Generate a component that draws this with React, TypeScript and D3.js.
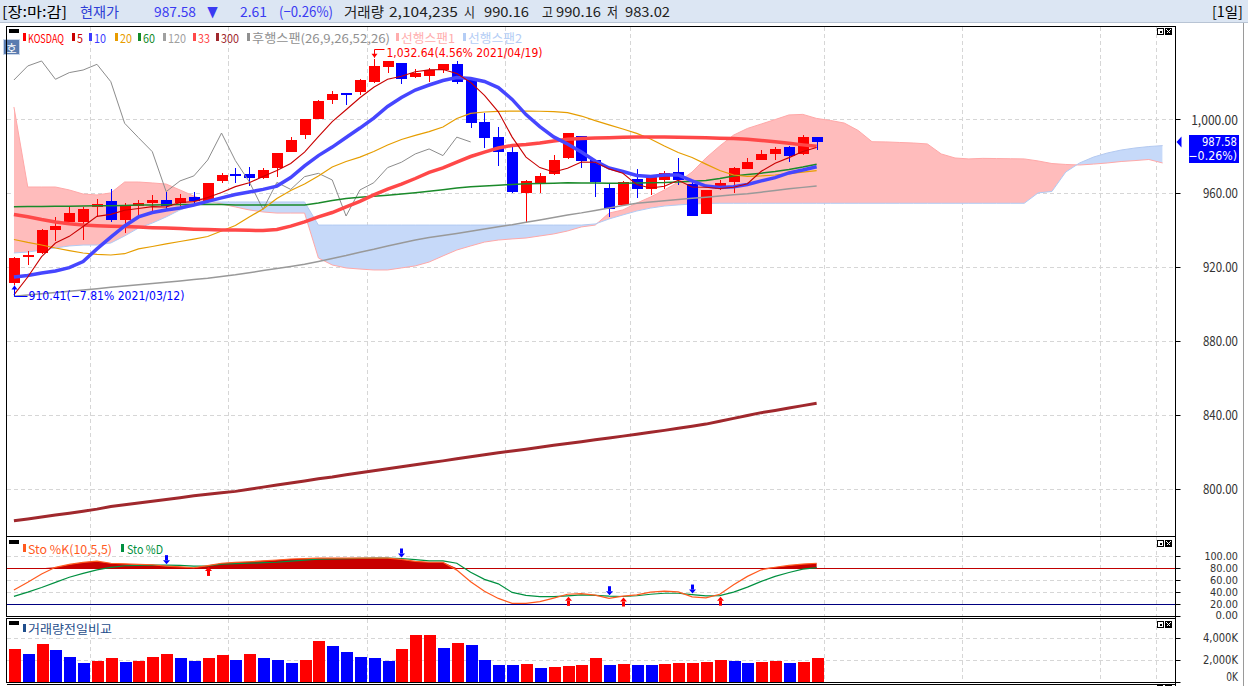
import * as d3 from 'd3';

const FONT = "'Noto Sans CJK KR', 'Noto Sans', 'DejaVu Sans', sans-serif";
const AXIS_FONT = "'DejaVu Sans', sans-serif";

// ---- candles (2021/03/12 .. 2021/06/04) ----
const dates = [
  '2021/03/12', '2021/03/15', '2021/03/16', '2021/03/17', '2021/03/18', '2021/03/19', '2021/03/22', '2021/03/23',
  '2021/03/24', '2021/03/25', '2021/03/26', '2021/03/29', '2021/03/30', '2021/03/31', '2021/04/01', '2021/04/02',
  '2021/04/05', '2021/04/06', '2021/04/07', '2021/04/08', '2021/04/09', '2021/04/12', '2021/04/13', '2021/04/14',
  '2021/04/15', '2021/04/16', '2021/04/19', '2021/04/20', '2021/04/21', '2021/04/22', '2021/04/23', '2021/04/26',
  '2021/04/27', '2021/04/28', '2021/04/29', '2021/04/30', '2021/05/03', '2021/05/04', '2021/05/06', '2021/05/07',
  '2021/05/10', '2021/05/11', '2021/05/12', '2021/05/13', '2021/05/14', '2021/05/17', '2021/05/18', '2021/05/20',
  '2021/05/21', '2021/05/24', '2021/05/25', '2021/05/26', '2021/05/27', '2021/05/28', '2021/05/31', '2021/06/01',
  '2021/06/02', '2021/06/03', '2021/06/04',
];
const opens = [
  911, 925.1, 927.3, 939.9, 944.4, 944.4, 952.6, 955.6, 945.3, 953.1, 954.4, 956.2, 954.4, 957.8, 955.6, 966.5,
  970.1, 970.1, 968.3, 973.3, 982.3, 991.3, 1000, 1010.3, 1013.9, 1014.4, 1020.2, 1028.3, 1030.1, 1022.5, 1023.4,
  1026.5, 1029.8, 1021.1, 998.6, 990.1, 982.3, 960.1, 965.5, 970.1, 978.7, 990.8, 977.8, 962.8, 953.5, 967.4, 961.9,
  966.8, 971.3, 964.8, 948.6, 961.9, 966.1, 973, 977.8, 981.1, 985, 980.9, 990.16,
];
const highs = [
  925.5, 928.8, 940.5, 947.2, 952.6, 952.6, 956.5, 962.1, 954.7, 956.2, 958.9, 960.7, 959.4, 960.3, 965.4, 971,
  973.3, 973.8, 973.7, 981.6, 990.1, 1000.2, 1010.3, 1015.3, 1014.2, 1021.5, 1032.64, 1031.6, 1030.3, 1026.9, 1027.4,
  1029.8, 1031.4, 1021.3, 1003.4, 995.5, 984.7, 967, 970.6, 980.5, 992.6, 991, 978, 965.2, 966.5, 973, 969, 971.9,
  978.9, 967, 961.8, 967, 974.2, 978.7, 983.2, 985, 985.2, 991.3, 990.16,
];
const lows = [
  910.41, 921, 926.8, 934.2, 944, 934.5, 947.2, 944.4, 938.5, 947.2, 950.4, 951.1, 953.1, 953.5, 955.4, 965.5, 965.5,
  963.9, 967.4, 968.8, 982.1, 989.2, 999.8, 1008.1, 1007.8, 1013, 1019.3, 1024.7, 1018.8, 1022.3, 1020.2, 1024.7,
  1018.8, 995, 984.1, 974.6, 960.1, 943.5, 960.1, 969.9, 978.5, 973.3, 957.6, 947.2, 953.1, 957.1, 958.9, 961.9,
  964.3, 947.3, 948.4, 961.7, 960.1, 972.8, 977.6, 977.8, 976.9, 980.7, 983.02,
];
const closes = [
  924.6, 926.4, 939.9, 942.1, 949.3, 951.1, 954, 945.3, 953.1, 954.4, 956.2, 953.1, 957.4, 955.6, 965.2, 969.7,
  969.2, 967.9, 972.4, 981.4, 988.6, 1000, 1009.7, 1013.5, 1013, 1021.1, 1028.7, 1031.4, 1021.5, 1025.1, 1026.5,
  1029.6, 1020.2, 997.7, 989.9, 982.3, 960.7, 966.5, 969.2, 977.8, 992.4, 977.5, 966.1, 951.1, 965.7, 961.9, 968.8,
  970.6, 967, 947.5, 961.6, 965.5, 973.7, 976.6, 981.1, 983.8, 980.2, 990.19, 987.58,
];
// volume in thousands
const volumes = [
  2950, 2480, 3430, 2860, 2190, 1710, 1900, 2100, 1810, 1850, 2190, 2480, 2100, 1900, 2100, 2380, 2000, 2480, 2100,
  2000, 1710, 2000, 3710, 3240, 2670, 2190, 2100, 1900, 2950, 4190, 4220, 3050, 3520, 3330, 2000, 1520, 1500, 1620,
  1240, 1330, 1430, 1520, 2100, 1520, 1620, 1520, 1500, 1620, 1640, 1660, 1810, 2000, 1900, 1710, 1740, 1900, 1710,
  1810, 2104,
];

// ---- moving averages ----
const ma5 = [
  904.8, 914.5, 925.5, 932.9, 936.5, 941.8, 947.3, 948.4, 950.6, 951.6, 952.6, 952.4, 954.8, 955.3, 957.5, 960.2,
  963.4, 965.5, 968.9, 972.1, 975.9, 982.1, 990.4, 998.6, 1005, 1011.5, 1017.2, 1021.5, 1023.1, 1025.6, 1026.6,
  1026.8, 1024.6, 1019.8, 1012.8, 1003.9, 990.2, 979.4, 973.7, 971.3, 973.3, 976.7, 976.6, 973, 970.6, 964.5, 962.7,
  963.6, 966.8, 963.2, 963.1, 962.4, 963.1, 965, 971.7, 976.1, 979.1, 982.4, 984.6,
];
const ma10 = [
  914.5, 915.3, 916.7, 917.8, 919.6, 922.9, 929.7, 936.1, 942.1, 947, 949.4, 950.8, 951.8, 953.5, 955.4, 957.3,
  959.1, 960.5, 961.9, 963.7, 968.3, 974.6, 980.2, 984.8, 990, 995.1, 1000.5, 1006.8, 1011.6, 1015.7, 1018.4, 1020.8,
  1022.5, 1021.9, 1020.3, 1017, 1010.6, 1002.4, 995.9, 990.3, 986.5, 982.1, 977.3, 973.5, 971.6, 969.4, 968.9, 969.7,
  969.7, 966.5, 963.7, 963, 963.3, 964.6, 966.5, 968.3, 970.8, 972.4, 974.2,
];
const ma20 = [
  934.8, 933.2, 931.8, 930.2, 928.8, 927.5, 926.7, 926.4, 927.1, 929.7, 931, 932.4, 933.7, 935, 936.4, 939.4, 942.4,
  947, 951.3, 957, 961.3, 964.8, 969.2, 974, 977, 979.4, 982.4, 985.9, 988.9, 991.1, 993.2, 995.7, 1000.3, 1003,
  1003.8, 1004.1, 1004.3, 1004.3, 1004.2, 1004, 1003.4, 1001.6, 999.1, 996.8, 994.6, 992.2, 989.2, 985.4, 981.9,
  979.2, 975.6, 972.1, 969.7, 968.9, 969.2, 969.7, 970.4, 971.3, 972.1,
];
const ma60 = [
  952.5, 952.6, 952.7, 952.8, 952.8, 952.9, 953, 953.1, 953.2, 953.4, 953.5, 953.6, 953.7, 953.8, 953.9, 953.7, 953.5,
  953.5, 953.5, 953.5, 953.5, 953.5, 954.5, 955.9, 957, 957.6, 958.2, 958.8, 959.4, 960.1, 960.9, 961.7, 962.6, 963.4,
  963.8, 964.2, 964.6, 964.9, 965.1, 965.3, 965.5, 965.4, 965.4, 965.3, 965.2, 965.4, 965.5, 965.6, 965.9, 966.3,
  966.7, 967.8, 969.2, 970, 970.7, 971.6, 972.7, 974, 975.5,
];
const ma120 = [
  904.1, 904.8, 905.4, 906.1, 906.8, 907.5, 908.2, 908.9, 909.6, 910.3, 911, 911.7, 912.4, 913.1, 913.8, 914.8, 915.7,
  916.8, 918, 919.1, 920.2, 921.4, 922.9, 924.5, 926.1, 927.9, 929.5, 931.3, 932.9, 934.5, 935.9, 937, 938.1, 939.3,
  940.5, 941.7, 942.8, 944.1, 945.4, 946.7, 948.1, 949.2, 950.5, 951.8, 953.2, 954.4, 955.1, 955.8, 956.4, 957.1,
  957.7, 958.3, 959, 959.6, 960.4, 961.3, 962.2, 963, 963.7,
];
const ma33 = [
  948.3, 947.1, 945.6, 944.3, 943.3, 942.6, 942.3, 942, 941.8, 941.5, 941.2, 941, 940.7, 940.4, 940.2, 940, 939.9,
  939.8, 939.6, 940.2, 942, 944.3, 947, 949.4, 952.4, 955.4, 958.9, 962.1, 964.8, 967.8, 971.1, 973.5, 976.7, 979.7,
  982.1, 984.3, 985.7, 986.2, 987, 988.1, 989.1, 989.4, 989.7, 989.9, 990.1, 990.2, 990.2, 990.2, 990.1, 990, 989.8,
  989.6, 989.4, 989, 988.4, 987.7, 986.9, 986, 985.2,
];
const ma300 = [
  782.6, 783.6, 784.6, 785.7, 786.7, 787.8, 788.9, 790.3, 791.2, 792.2, 793.2, 794.1, 795.1, 796.1, 796.9, 797.8,
  798.5, 799.6, 800.8, 801.9, 803, 804.1, 805.3, 806.3, 807.5, 808.6, 809.6, 810.7, 811.8, 812.9, 814, 815, 816.1,
  817.2, 818.3, 819.4, 820.3, 821.3, 822.4, 823.4, 824.4, 825.4, 826.4, 827.4, 828.4, 829.4, 830.5, 831.5, 832.6,
  833.7, 834.9, 836.4, 838, 839.6, 841.1, 842.3, 843.6, 844.9, 846.2,
];

// ---- ichimoku leading spans (shifted forward, 84 slots) ----
const span1 = [
  1006.5, 963.2, 963.2, 963.2, 961.6, 959.4, 958.9, 960, 965.9, 965.9, 965.4, 964.8, 961.6, 958.3, 955.6, 954, 952.4,
  950.8, 949.7, 949.1, 949.1, 949.1, 924.8, 921, 919.4, 918.8, 918.3, 918.3, 919.4, 920.5, 922.6, 925.9, 929.1,
  931.3, 933.4, 934.5, 935.1, 935.6, 936.7, 937.8, 939.4, 941.6, 942.6, 949.1, 950.8, 954.5, 957.8, 961.6, 965.9,
  971.3, 978.9, 985.4, 991.3, 994.9, 997.3, 999.7, 1002.2, 1002.5, 1000.3, 999.2, 997.8, 993.8, 987.7, 987.6, 987.3,
  987, 986.5, 981.1, 978.9, 978.4, 978.7, 978.6, 978.5, 978.4, 977.3, 975.9, 975.4, 975.1, 975.6, 976.2, 977, 977.5,
  978.1, 976.2,
];
const span2 = [
  927.5, 928, 929.1, 930.2, 931.3, 931.8, 931.8, 932.9, 936.7, 941, 943.7, 947, 950.8, 953.5, 955.1, 955.1, 955.1,
  955.1, 955.1, 955.1, 955.1, 955.1, 942.6, 942.6, 942.6, 942.6, 942.6, 942.6, 942.6, 942.6, 942.6, 942.6, 942.6,
  942.6, 942.6, 942.6, 942.6, 942.6, 942.6, 942.6, 942.6, 942.6, 943.2, 945.9, 948.1, 950.2, 951.8, 952.9, 953.5,
  954, 954.3, 954.4, 954.4, 954.4, 954.4, 954.4, 954.4, 954.4, 954.4, 954.4, 954.4, 954.4, 954.4, 954.4, 954.4,
  954.4, 954.4, 954.4, 954.4, 954.4, 954.4, 954.4, 954.4, 954.4, 960, 960.8, 971.3, 976.2, 979.4, 981.6, 983.2,
  984.3, 985.1, 985.6,
];
const LAG = 25;

// ---- stochastics ----
const stoK = [
  43.5, 56.5, 70.5, 81.7, 86.5, 90, 92, 88.5, 87.5, 86.5, 86, 83.8, 82.5, 81, 84.5, 88.5, 90, 91, 92.5, 94, 95.6,
  96.3, 97, 97, 97, 97, 97, 97.2, 95, 91.8, 90.2, 90.2, 77, 57.5, 41.5, 29.5, 21.3, 21.3, 24, 30, 36.5, 37.5, 35,
  29.6, 33.5, 35.5, 40, 41.8, 40.5, 32, 30.5, 36.5, 52.5, 66.5, 77.5, 81.8, 84.8, 87.2, 88.5,
];
const stoD = [
  33, 40, 47.8, 56.5, 65, 71.5, 77.5, 81.6, 84.3, 85.1, 85.5, 85.3, 84.8, 83.8, 84, 86.9, 87.8, 88.6, 89.4, 90.2, 92,
  93.8, 95.3, 95.9, 96.4, 96.8, 97, 97, 96.5, 94.5, 92.4, 92.4, 88.5, 73.5, 61.5, 54, 39.5, 34.5, 32.5, 32.5, 33.8,
  35.3, 34.5, 33.2, 32.7, 34, 36.5, 38.2, 38.2, 36, 33.8, 34.1, 40, 48.5, 58, 66.5, 73, 78.5, 81.2,
];
const sellSignals = [11, 28, 43, 49];
const buySignals = [14, 40, 44, 51];

// ---- ticks ----
const priceTicks = [1000, 960, 920, 880, 840, 800];
const stoTicks = [100, 80, 60, 40, 20, 0];
const volTicks = [4000, 2000, 0];
const gridIdx = [6, 16, 26, 36, 45, 59, 69, 79, 83];

// ---- layout ----
const W = 1248;
const H = 686;
const L = 6.5;
const R = 1175.5;
const MAIN_T = 26.5;
const MAIN_B = 536.5;
const STO_B = 616.5;
const VOL_T = 618.5;
const VOL_B = 682.5;
const LABEL_X = 1238;
const STEP = 13.84;
const SLOTS = 84;

const x = d3
  .scaleBand<number>()
  .domain(d3.range(SLOTS))
  .range([7, 7 + SLOTS * STEP])
  .paddingInner(0.15)
  .paddingOuter(0.075);
const cx = (i: number) => (x(i) ?? 0) + x.bandwidth() / 2;
const yP = d3.scaleLinear().domain([800, 1000]).range([488.6, 119]);
const yS = d3.scaleLinear().domain([0, 100]).range([616, 556.4]);
const yV = d3.scaleLinear().domain([0, 4000]).range([681.5, 637.5]);

const priceLine = d3.line<number>().x((_, i) => cx(i)).y((v) => yP(v));
const stoLine = d3.line<number>().x((_, i) => cx(i)).y((v) => yS(v));
const stoFill = d3
  .area<number>()
  .x((_, i) => cx(i))
  .y0(yS(80))
  .y1((v) => yS(Math.max(v, 80)));
const cloudArea = d3
  .area<number>()
  .x((_, i) => cx(i))
  .y0((_, i) => yP(span2[i]))
  .y1((v) => yP(v));
const aboveSpan2 = d3.area<number>().x((_, i) => cx(i)).y0(MAIN_T).y1((v) => yP(v));
const belowSpan2 = d3.area<number>().x((_, i) => cx(i)).y0(MAIN_B).y1((v) => yP(v));

const fmtPrice = d3.format(',.2f');
const fmtVol = (v: number) => d3.format(',')(v) + 'K';

const textWidth = (s: string, latin: number, hangul: number) =>
  Array.from(s).reduce((w, ch) => w + (ch.charCodeAt(0) >= 0x1100 ? hangul : latin), 0);

type LabelProps = {
  x: number;
  y: number;
  text: string;
  size?: number;
  fill?: string;
  anchor?: 'start' | 'middle' | 'end';
  latin?: number;
  hangul?: number;
  width?: number;
  family?: string;
};
function Label({
  x,
  y,
  text,
  size = 12,
  fill = '#333',
  anchor = 'start',
  latin = 6,
  hangul = 12,
  width,
  family = FONT,
}: LabelProps) {
  const len = width ?? textWidth(text, latin, hangul);
  return (
    <text
      x={x}
      y={y}
      fontSize={size}
      fill={fill}
      textAnchor={anchor}
      dominantBaseline="central"
      textLength={len}
      lengthAdjust="spacingAndGlyphs"
      fontFamily={family}
    >
      {text}
    </text>
  );
}

function PanelIcons({ y }: { y: number }) {
  return (
    <g shapeRendering="crispEdges">
      <rect x={1157.5} y={y + 0.5} width={6} height={6} fill="#fff" stroke="#000" />
      <rect x={1159.5} y={y + 2.5} width={2} height={2} fill="#000" />
      <rect x={1165} y={y} width={7} height={7} fill="#000" />
      <path
        d={`M${1166.5},${y + 1.5}L${1170.5},${y + 5.5}M${1170.5},${y + 1.5}L${1166.5},${y + 5.5}`}
        stroke="#fff"
        strokeWidth={1}
      />
    </g>
  );
}

const gridX = (g: number) => Math.round(cx(g) - STEP / 2) + 0.5;

function VGrid({ top, bottom }: { top: number; bottom: number }) {
  return (
    <g stroke="#d6d6d6" strokeDasharray="4,3" shapeRendering="crispEdges">
      {gridIdx.map((g) => (
        <line key={g} x1={gridX(g)} x2={gridX(g)} y1={top} y2={bottom} />
      ))}
    </g>
  );
}

const mainLegend = [
  { label: 'KOSDAQ', color: '#ff0000', x: 23 },
  { label: '5', color: '#c80000', x: 72 },
  { label: '10', color: '#3c3cff', x: 89 },
  { label: '20', color: '#e89c00', x: 115 },
  { label: '60', color: '#128a28', x: 138 },
  { label: '120', color: '#a0a0a0', x: 163 },
  { label: '33', color: '#ff4848', x: 193 },
  { label: '300', color: '#a0282d', x: 216 },
  { label: '후행스팬(26,9,26,52,26)', color: '#909090', x: 247 },
  { label: '선행스팬1', color: '#ffadad', x: 396 },
  { label: '선행스팬2', color: '#b4cdf5', x: 463 },
];

export default function App() {
  const last = closes[closes.length - 1];
  const prev = closes[closes.length - 2];
  const hiIdx = d3.maxIndex(highs);
  const loIdx = d3.minIndex(lows);
  const pct = (v: number) => d3.format('.2f')(((v - last) / last) * 100) + '%';
  const hiY = yP(highs[hiIdx]);
  const loY = yP(lows[loIdx]);
  const hiX = Math.round(cx(hiIdx)) + 0.5;
  const loX = Math.round(cx(loIdx)) + 0.5;
  const lagging = closes.slice(LAG);
  const change = last - prev;

  const headerBlue = '#3a3af2';
  const header = [
    { t: '[장:마:감]', x: 2, w: 65, c: '#000' },
    { t: '현재가', x: 80, w: 39, c: '#2f3fd6' },
    { t: d3.format('.2f')(last), x: 154, w: 42, c: headerBlue },
    { t: change < 0 ? '▼' : '▲', x: 207, w: 11, c: headerBlue },
    { t: d3.format('.2f')(Math.abs(change)), x: 240, w: 27, c: headerBlue },
    { t: `(${d3.format('.2f')((change / prev) * 100)}%)`, x: 279, w: 54, c: headerBlue },
    { t: '거래량', x: 344, w: 40, c: '#222' },
    { t: '2,104,235', x: 389, w: 69, c: '#222' },
    { t: '시', x: 464, w: 11, c: '#222' },
    { t: d3.format('.2f')(opens[opens.length - 1]), x: 484, w: 45, c: '#222' },
    { t: '고', x: 542, w: 11, c: '#222' },
    { t: d3.format('.2f')(highs[highs.length - 1]), x: 556, w: 45, c: '#222' },
    { t: '저', x: 607, w: 11, c: '#222' },
    { t: d3.format('.2f')(lows[lows.length - 1]), x: 625, w: 45, c: '#222' },
  ];

  return (
    <div style={{ position: 'absolute', left: 0, top: 0, width: W, height: H, overflow: 'hidden', background: '#fff' }}>
      <svg width={W} height={H} style={{ display: 'block' }}>
        <defs>
          <clipPath id="mainClip">
            <rect x={L + 0.5} y={MAIN_T + 0.5} width={R - L - 1} height={MAIN_B - MAIN_T - 1} />
          </clipPath>
          <clipPath id="aboveS2">
            <path d={aboveSpan2(span2) ?? ''} />
          </clipPath>
          <clipPath id="belowS2">
            <path d={belowSpan2(span2) ?? ''} />
          </clipPath>
        </defs>

        {/* header */}
        <rect x={0} y={0} width={W} height={22} fill="#dce6f3" />
        <line x1={0} x2={W} y1={22.5} y2={22.5} stroke="#b8c4d4" />
        {header.map((h, i) => (
          <Label key={i} x={h.x} y={11} text={h.t} size={14} fill={h.c} width={h.w} />
        ))}
        <Label x={1243} y={11} text="[1일]" size={14} fill="#000" anchor="end" width={31} />

        {/* ===== main panel ===== */}
        <g stroke="#d6d6d6" strokeDasharray="4,3" shapeRendering="crispEdges">
          {priceTicks.map((t) => (
            <line key={t} x1={L} x2={R} y1={Math.round(yP(t)) + 0.5} y2={Math.round(yP(t)) + 0.5} />
          ))}
        </g>
        <VGrid top={MAIN_T} bottom={MAIN_B} />

        <g clipPath="url(#mainClip)">
          {/* cloud */}
          <path d={cloudArea(span1) ?? ''} fill="#ffbcbc" clipPath="url(#aboveS2)" />
          <path d={cloudArea(span1) ?? ''} fill="#c6d9f9" clipPath="url(#belowS2)" />
          <path d={priceLine(span1) ?? ''} fill="none" stroke="#ffa8a8" strokeWidth={1} />
          <path d={priceLine(span2) ?? ''} fill="none" stroke="#b2caf2" strokeWidth={1} />

          {/* candles */}
          {opens.map((o, i) => {
            const c = closes[i];
            const col = c >= o ? '#ff0000' : '#0000ff';
            const xc = Math.round(cx(i)) + 0.5;
            const top = yP(Math.max(o, c));
            const bot = yP(Math.min(o, c));
            return (
              <g key={i} shapeRendering="crispEdges">
                <line x1={xc} x2={xc} y1={yP(highs[i])} y2={yP(lows[i])} stroke={col} />
                <rect x={xc - 5.5} y={top} width={11} height={Math.max(1, bot - top)} fill={col} />
              </g>
            );
          })}

          {/* lines */}
          <path d={priceLine(lagging) ?? ''} fill="none" stroke="#8c8c8c" strokeWidth={1} />
          <path d={priceLine(ma120) ?? ''} fill="none" stroke="#999" strokeWidth={1.5} />
          <path d={priceLine(ma60) ?? ''} fill="none" stroke="#1a8a2a" strokeWidth={1.5} />
          <path d={priceLine(ma20) ?? ''} fill="none" stroke="#e69d00" strokeWidth={1.2} />
          <path d={priceLine(ma33) ?? ''} fill="none" stroke="#ff4848" strokeWidth={3.5} />
          <path d={priceLine(ma10) ?? ''} fill="none" stroke="#4646ff" strokeWidth={3.5} />
          <path d={priceLine(ma5) ?? ''} fill="none" stroke="#c80000" strokeWidth={1.1} />
          <path d={priceLine(ma300) ?? ''} fill="none" stroke="#a0282d" strokeWidth={3} />

          {/* high marker */}
          <path d={`M${hiX},${hiY - 1}L${hiX},49.5L${hiX + 10},49.5`} fill="none" stroke="#ff0000" />
          <path d={`M${hiX - 3},${hiY - 5}L${hiX + 3},${hiY - 5}L${hiX},${hiY - 1}Z`} fill="#ff0000" />
          <Label
            x={hiX + 12}
            y={52.5}
            text={`${fmtPrice(highs[hiIdx])}(${pct(highs[hiIdx])} ${dates[hiIdx]})`}
            fill="#ff0000"
            family={AXIS_FONT}
          />
          {/* low marker */}
          <path d={`M${loX},${loY + 1}L${loX},296.5L${loX + 13},296.5`} fill="none" stroke="#0000ff" />
          <path d={`M${loX - 3},${loY + 5}L${loX + 3},${loY + 5}L${loX},${loY + 1}Z`} fill="#0000ff" />
          <Label
            x={loX + 14}
            y={296}
            text={`${fmtPrice(lows[loIdx])}(${pct(lows[loIdx])} ${dates[loIdx]})`}
            fill="#0000ff"
            family={AXIS_FONT}
          />
        </g>

        {/* legend */}
        <rect x={9} y={29} width={10} height={4} fill="#000" />
        {mainLegend.map((m) => (
          <g key={m.label}>
            <rect x={m.x} y={33} width={3} height={8} fill={m.color} />
            <Label x={m.x + 5} y={37} text={m.label} fill={m.color} />
          </g>
        ))}
        <rect x={3.5} y={39.5} width={16} height={15} fill="#5a7cb0" stroke="#c8d6ea" />
        <text x={11.5} y={47.5} fontSize={11} fill="#fff" textAnchor="middle" dominantBaseline="central" fontFamily={FONT}>
          호
        </text>
        <PanelIcons y={28} />

        {/* right axis main */}
        {priceTicks.map((t) => (
          <g key={t}>
            <line x1={R} x2={R + 5} y1={Math.round(yP(t)) + 0.5} y2={Math.round(yP(t)) + 0.5} stroke="#000" />
            <Label x={LABEL_X} y={yP(t)} text={fmtPrice(t)} size={13} anchor="end" latin={5.85} />
          </g>
        ))}
        <path d={`M${R + 1},${yP(last)}L${R + 6},${yP(last) - 5.5}L${R + 6},${yP(last) + 5.5}Z`} fill="#0000ff" />
        <rect x={1189} y={135} width={50} height={28} fill="#0000ff" />
        <Label
          x={1237}
          y={141.5}
          text={d3.format('.2f')(last)}
          size={12}
          fill="#fff"
          anchor="end"
          latin={5.85}
          family={AXIS_FONT}
        />
        <Label
          x={1237}
          y={156}
          text={`(${d3.format('.2f')((change / prev) * 100)}%)`}
          size={12}
          fill="#fff"
          anchor="end"
          latin={5.85}
          family={AXIS_FONT}
        />

        {/* ===== stochastic panel ===== */}
        <g stroke="#d6d6d6" strokeDasharray="4,3" shapeRendering="crispEdges">
          {stoTicks.map((t) => (
            <line key={t} x1={L} x2={R} y1={Math.round(yS(t)) + 0.5} y2={Math.round(yS(t)) + 0.5} />
          ))}
        </g>
        <VGrid top={MAIN_B} bottom={STO_B} />
        <path d={stoFill(stoK) ?? ''} fill="#c80000" />
        <line x1={L} x2={R} y1={Math.round(yS(80)) + 0.5} y2={Math.round(yS(80)) + 0.5} stroke="#c00000" shapeRendering="crispEdges" />
        <line x1={L} x2={R} y1={Math.round(yS(20)) + 0.5} y2={Math.round(yS(20)) + 0.5} stroke="#000080" shapeRendering="crispEdges" />
        <path d={stoLine(stoD) ?? ''} fill="none" stroke="#009040" strokeWidth={1.2} />
        <path d={stoLine(stoK) ?? ''} fill="none" stroke="#ff5a1e" strokeWidth={1.2} />
        {sellSignals.map((s) => {
          const ax = Math.round(cx(s)) + 0.5;
          const tip = yS(Math.max(stoK[s], stoD[s])) - 1;
          return (
            <g key={`s${s}`} fill="#0000ff">
              <rect x={ax - 1.5} y={tip - 9} width={3} height={5} />
              <path d={`M${ax - 3.5},${tip - 4}L${ax + 3.5},${tip - 4}L${ax},${tip}Z`} />
            </g>
          );
        })}
        {buySignals.map((b) => {
          const ax = Math.round(cx(b)) + 0.5;
          const tip = yS(Math.min(stoK[b], stoD[b])) + 1;
          return (
            <g key={`b${b}`} fill="#ff0000">
              <rect x={ax - 1.5} y={tip + 4} width={3} height={5} />
              <path d={`M${ax - 3.5},${tip + 4}L${ax + 3.5},${tip + 4}L${ax},${tip}Z`} />
            </g>
          );
        })}
        <rect x={9} y={540} width={10} height={4} fill="#000" />
        <rect x={23} y={544} width={3} height={8} fill="#ff5a1e" />
        <Label x={28} y={548} text="Sto %K(10,5,5)" fill="#ff5a1e" />
        <rect x={121} y={544} width={3} height={8} fill="#009040" />
        <Label x={127} y={548} text="Sto %D" fill="#009040" />
        <PanelIcons y={540} />
        {stoTicks.map((t) => (
          <g key={t}>
            <line x1={R} x2={R + 5} y1={Math.round(yS(t)) + 0.5} y2={Math.round(yS(t)) + 0.5} stroke="#000" />
            <Label
              x={LABEL_X}
              y={t === 0 ? 615.5 : yS(t)}
              text={d3.format('.2f')(t)}
              size={10}
              anchor="end"
              latin={5.6}
              family={AXIS_FONT}
            />
          </g>
        ))}

        {/* ===== volume panel ===== */}
        <g stroke="#d6d6d6" strokeDasharray="4,3" shapeRendering="crispEdges">
          {volTicks.slice(0, 2).map((t) => (
            <line key={t} x1={L} x2={R} y1={Math.round(yV(t)) + 0.5} y2={Math.round(yV(t)) + 0.5} />
          ))}
        </g>
        <VGrid top={VOL_T} bottom={VOL_B} />
        {volumes.map((v, i) => {
          const up = i === 0 || v >= volumes[i - 1];
          return (
            <rect
              key={i}
              x={Math.round(cx(i)) - 5.5}
              y={yV(v)}
              width={12}
              height={yV(0) - yV(v)}
              fill={up ? '#ff0000' : '#0000ff'}
              shapeRendering="crispEdges"
            />
          );
        })}
        <rect x={9} y={621} width={10} height={4} fill="#000" />
        <rect x={23} y={624} width={3} height={8} fill="#1f4e8c" />
        <Label x={28} y={628} text="거래량전일비교" fill="#1f4e8c" />
        <PanelIcons y={621} />
        {volTicks.map((t) => (
          <g key={t}>
            <line x1={R} x2={R + 5} y1={Math.round(yV(t)) + 0.5} y2={Math.round(yV(t)) + 0.5} stroke="#000" />
            <Label
              x={LABEL_X}
              y={t === 0 ? 676.5 : yV(t)}
              text={fmtVol(t)}
              size={12}
              anchor="end"
              latin={5.85}
              family={AXIS_FONT}
            />
          </g>
        ))}

        {/* frames */}
        <g fill="none" stroke="#000" shapeRendering="crispEdges">
          <rect x={L} y={MAIN_T} width={R - L} height={MAIN_B - MAIN_T} />
          <rect x={L} y={MAIN_B} width={R - L} height={STO_B - MAIN_B} />
          <rect x={L} y={VOL_T} width={R - L} height={VOL_B - VOL_T} />
          <line x1={L} x2={R} y1={684.5} y2={684.5} />
          <line x1={R} x2={R} y1={MAIN_T} y2={H} />
        </g>
        <rect x={1157} y={685} width={6} height={2} fill="#000" />
        <rect x={1165} y={685} width={7} height={2} fill="#000" />
        <line x1={1243.5} x2={1243.5} y1={23} y2={H} stroke="#9a9a9a" />
      </svg>
    </div>
  );
}
